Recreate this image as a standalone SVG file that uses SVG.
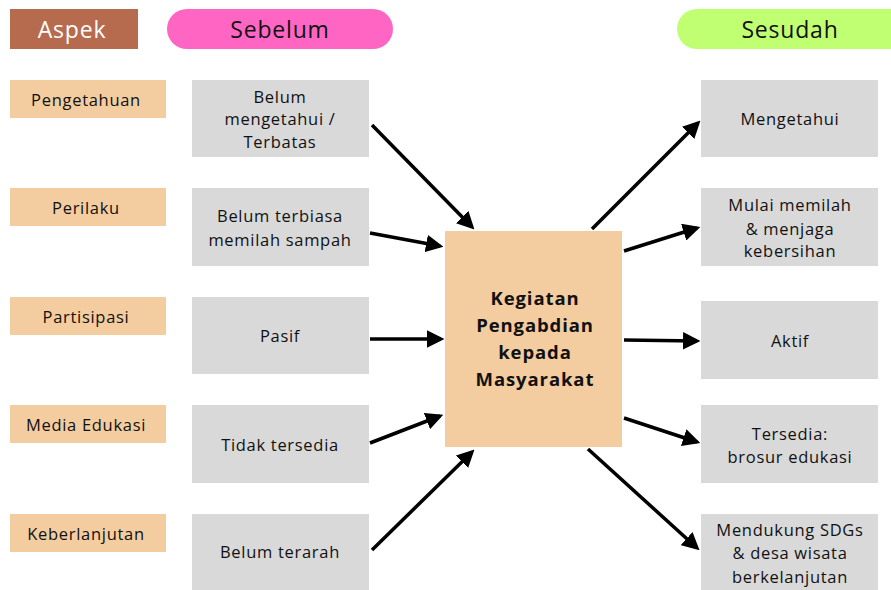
<svg xmlns="http://www.w3.org/2000/svg" width="891" height="590" viewBox="0 0 891 590">
<style>
text{font-family:"Open Sans","Noto Sans",sans-serif;fill:#111;text-anchor:middle;dominant-baseline:central}
.hd{font-size:23px;letter-spacing:0.8px}
.t{font-size:16.5px;letter-spacing:0.7px}
.asp{fill:#f3cd9f}
.box{fill:#d9d9d9}
.c{font-size:18.5px;font-weight:bold;letter-spacing:0.9px}
.con line{stroke:#000;stroke-width:3.5;marker-end:url(#ah)}
</style>
<defs>
<marker id="ah" markerWidth="5" markerHeight="5" refX="4" refY="2.5" orient="auto" markerUnits="strokeWidth">
<path d="M0,0 L5,2.5 L0,5 Z" fill="#000"/>
</marker>
</defs>
<rect width="891" height="590" fill="#fff"/>
<g id="h-aspek"><rect x="10" y="9" width="128" height="40" fill="#b76b4e"/><text class="hd" x="72" y="29" style="fill:#fff">Aspek</text></g>
<g id="h-sebelum"><rect x="167" y="9" width="226" height="40" rx="20" fill="#ff66c4"/><text class="hd" x="280" y="29">Sebelum</text></g>
<g id="h-sesudah"><rect x="677" y="9" width="240" height="40" rx="20" fill="#c1ff72"/><text class="hd" x="790" y="29">Sesudah</text></g>

<g id="a1"><rect class="asp" x="10" y="80" width="156" height="38"/><text class="t" x="86" y="99">Pengetahuan</text></g>
<g id="a2"><rect class="asp" x="10" y="188" width="156" height="38"/><text class="t" x="86" y="207">Perilaku</text></g>
<g id="a3"><rect class="asp" x="10" y="297" width="156" height="38"/><text class="t" x="86" y="316">Partisipasi</text></g>
<g id="a4"><rect class="asp" x="10" y="405" width="156" height="38"/><text class="t" x="86" y="424">Media Edukasi</text></g>
<g id="a5"><rect class="asp" x="10" y="514" width="156" height="38"/><text class="t" x="86" y="533">Keberlanjutan</text></g>

<g id="b1"><rect class="box" x="192" y="80" width="177" height="77"/><text class="t" x="280" y="96">Belum</text><text class="t" x="280" y="118">mengetahui /</text><text class="t" x="280" y="141">Terbatas</text></g>
<g id="b2"><rect class="box" x="192" y="188" width="177" height="78"/><text class="t" x="280" y="215">Belum terbiasa</text><text class="t" x="280" y="239">memilah sampah</text></g>
<g id="b3"><rect class="box" x="192" y="297" width="177" height="77"/><text class="t" x="280" y="335">Pasif</text></g>
<g id="b4"><rect class="box" x="192" y="405" width="177" height="78"/><text class="t" x="280" y="444">Tidak tersedia</text></g>
<g id="b5"><rect class="box" x="192" y="514" width="177" height="76"/><text class="t" x="280" y="551">Belum terarah</text></g>

<g id="center"><rect x="445" y="231" width="177" height="216" fill="#f3cd9f"/><text class="c" x="535" y="297">Kegiatan</text><text class="c" x="535" y="324">Pengabdian</text><text class="c" x="535" y="351">kepada</text><text class="c" x="535" y="378">Masyarakat</text></g>

<g id="s1"><rect class="box" x="701" y="80" width="177" height="77"/><text class="t" x="790" y="118">Mengetahui</text></g>
<g id="s2"><rect class="box" x="701" y="188" width="177" height="78"/><text class="t" x="790" y="204">Mulai memilah</text><text class="t" x="790" y="228">&amp; menjaga</text><text class="t" x="790" y="250">kebersihan</text></g>
<g id="s3"><rect class="box" x="701" y="301" width="177" height="78"/><text class="t" x="790" y="340">Aktif</text></g>
<g id="s4"><rect class="box" x="701" y="405" width="177" height="78"/><text class="t" x="790" y="433">Tersedia:</text><text class="t" x="790" y="456">brosur edukasi</text></g>
<g id="s5"><rect class="box" x="701" y="514" width="177" height="76"/><text class="t" x="790" y="529">Mendukung SDGs</text><text class="t" x="790" y="552">&amp; desa wisata</text><text class="t" x="790" y="576">berkelanjutan</text></g>

<g id="connectors" class="con">
<line x1="372" y1="125" x2="472" y2="227"/>
<line x1="370" y1="233" x2="440" y2="246"/>
<line x1="370" y1="339" x2="441" y2="339"/>
<line x1="370" y1="443" x2="440" y2="416"/>
<line x1="372" y1="550" x2="472" y2="452"/>
<line x1="592" y1="229" x2="698" y2="123"/>
<line x1="624" y1="251" x2="697" y2="228"/>
<line x1="624" y1="340" x2="697" y2="341"/>
<line x1="624" y1="418" x2="697" y2="442"/>
<line x1="588" y1="449" x2="697" y2="548"/>
</g>
</svg>
